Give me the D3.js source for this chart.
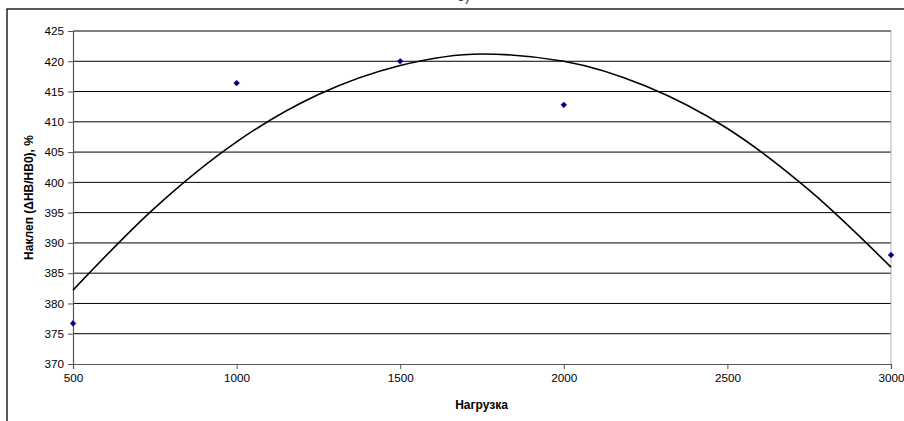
<!DOCTYPE html>
<html>
<head>
<meta charset="utf-8">
<script src="https://cdn.jsdelivr.net/npm/d3@7"></script>
<style>
  html, body { margin: 0; padding: 0; background: #fff; overflow: hidden; }
  svg { display: block; font-family: "Liberation Sans", Arial, sans-serif; }
</style>
</head>
<body>
<svg id="chart" width="904" height="421"></svg>
<script>
// === DATA ===
const loads = [500, 1000, 1500, 2000, 3000];
const hardening = [376.7, 416.4, 420.0, 412.8, 388.0];

// trendline
const trendX = [500, 750, 1000, 1250, 1500, 1750, 2000, 2250, 2500, 2750, 3000];
const trendY = [382.2, 395.8, 406.7, 414.5, 419.3, 421.2, 420.0, 415.9, 408.9, 398.7, 386.0];

const xTicks = [500, 1000, 1500, 2000, 2500, 3000];
const yTicks = [370, 375, 380, 385, 390, 395, 400, 405, 410, 415, 420, 425];

const xTitle = "Нагрузка";
const yTitle = "Наклеп (ΔHB/HB0), %";

// === LAYOUT ===
const svg = d3.select("#chart");
const plot = { left: 73, right: 891, top: 31, bottom: 364 };

const x = d3.scaleLinear().domain([500, 3000]).range([plot.left, plot.right]);
const y = d3.scaleLinear().domain([370, 425]).range([plot.bottom, plot.top]);

// outer frame (cut by the window on right and bottom)
svg.append("rect")
  .attr("x", 7).attr("y", 9)
  .attr("width", 960).attr("height", 460)
  .attr("fill", "none").attr("stroke", "#000").attr("stroke-width", 1.3);

// cut-off title fragment
svg.append("text")
  .attr("x", 470).attr("y", 1)
  .attr("text-anchor", "end")
  .attr("font-size", 15).attr("fill", "#444")
  .text("б)");

// gridlines
svg.append("g")
  .selectAll("line")
  .data(yTicks.slice(1))
  .join("line")
  .attr("x1", plot.left).attr("x2", plot.right)
  .attr("y1", d => y(d)).attr("y2", d => y(d))
  .attr("stroke", "#000").attr("stroke-width", 1);

// right border of plot area
svg.append("line")
  .attr("x1", plot.right).attr("x2", plot.right)
  .attr("y1", plot.top).attr("y2", plot.bottom)
  .attr("stroke", "#b0b0b0").attr("stroke-width", 1);

// axes
const xAxis = svg.append("g")
  .attr("transform", `translate(0,${plot.bottom})`)
  .call(d3.axisBottom(x).tickValues(xTicks).tickSize(5).tickPadding(5).tickFormat(d3.format("d")));
const yAxis = svg.append("g")
  .attr("transform", `translate(${plot.left},0)`)
  .call(d3.axisLeft(y).tickValues(yTicks).tickSize(5).tickPadding(4).tickFormat(d3.format("d")));

[xAxis, yAxis].forEach(g => {
  g.select(".domain").attr("stroke", "#555").attr("stroke-width", 1.2);
  g.selectAll(".tick line").attr("stroke", "#555");
  g.selectAll(".tick text")
    .attr("font-size", 11.7)
    .attr("fill", "#000")
    .attr("font-family", "'Liberation Sans', Arial, sans-serif");
});

// trendline
const line = d3.line()
  .x((d, i) => x(trendX[i]))
  .y(d => y(d))
  .curve(d3.curveMonotoneX);
svg.append("path")
  .datum(trendY)
  .attr("d", line)
  .attr("fill", "none")
  .attr("stroke", "#000")
  .attr("stroke-width", 1.6);

// data markers (diamonds)
svg.append("g")
  .selectAll("path")
  .data(loads)
  .join("path")
  .attr("transform", (d, i) => `translate(${x(d)},${y(hardening[i])}) rotate(45)`)
  .attr("d", "M-2,-2H2V2H-2Z")
  .attr("fill", "#000080")
  .attr("stroke", "#000080")
  .attr("stroke-width", 0.6);

// axis titles
svg.append("text")
  .attr("x", (plot.left + plot.right) / 2 - 0.5)
  .attr("y", 409)
  .attr("text-anchor", "middle")
  .attr("font-size", 12).attr("font-weight", "bold")
  .text(xTitle);

svg.append("text")
  .attr("transform", `translate(33,${(plot.top + plot.bottom) / 2}) rotate(-90)`)
  .attr("text-anchor", "middle")
  .attr("font-size", 12).attr("font-weight", "bold")
  .text(yTitle);
</script>
</body>
</html>
